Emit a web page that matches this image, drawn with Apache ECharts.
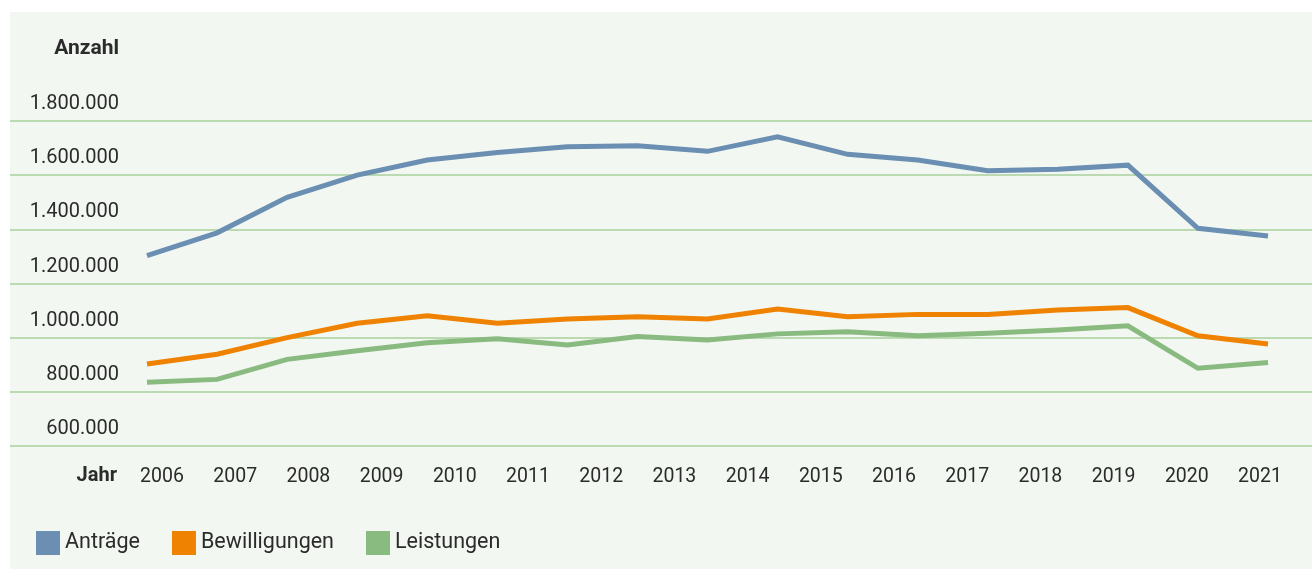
<!DOCTYPE html>
<html>
<head>
<meta charset="utf-8">
<script src="https://cdn.jsdelivr.net/npm/echarts@6/dist/echarts.min.js"></script>
<style>
    html, body { margin: 0; padding: 0; background: #fff; }
    #chart { position: absolute; left: 10px; top: 12px; width: 1302px; height: 557px; background: #f2f7f1; }
</style>
</head>
<body>
<div id="chart"></div>
<script>
    // year labels shown under the axis
    var years = ['2006', '2007', '2008', '2009', '2010', '2011', '2012', '2013', '2014', '2015', '2016', '2017', '2018', '2019', '2020', '2021'];
    // the lines carry one point more than there are year labels
    var antraege = [1303000, 1387000, 1518000, 1600000, 1656000, 1684000, 1705000, 1709000, 1688000, 1742000, 1677000, 1656000, 1616000, 1622000, 1637000, 1404000, 1375000];
    var bewilligungen = [903000, 939000, 1000000, 1053000, 1081000, 1053000, 1069000, 1077000, 1069000, 1106000, 1077000, 1086000, 1086000, 1102000, 1111000, 1007000, 977000];
    var leistungen = [835000, 846000, 920000, 952000, 981000, 996000, 973000, 1004000, 991000, 1014000, 1022000, 1007000, 1016000, 1028000, 1044000, 887000, 908000];
    var pointIdx = antraege.map(function (v, i) { return String(i); });

    var font = 'Roboto, "Noto Sans", sans-serif';
    var textColor = '#2b2b2b';

    var myChart = echarts.init(document.getElementById('chart'));

    function fmt(v) {
        return String(v).replace(/\B(?=(\d{3})+(?!\d))/g, '.');
    }

    function lineSeries(name, data, color) {
        return {
            name: name,
            type: 'line',
            xAxisIndex: 2,
            yAxisIndex: 2,
            data: data,
            showSymbol: false,
            symbol: 'none',
            itemStyle: { color: color },
            lineStyle: { color: color, width: 5, cap: 'butt', join: 'miter' },
            animation: false
        };
    }

    myChart.setOption({
        animation: false,
        textStyle: { fontFamily: font },
        grid: [
            { left: 0, right: 0, top: 109, bottom: 123 },
            { left: 115.4, right: 15.4, top: 109, bottom: 123 },
            { left: 137, right: 44, top: 109, bottom: 123 }
        ],
        xAxis: [
            { gridIndex: 0, type: 'value', show: false },
            {
                gridIndex: 1, type: 'category', data: years, boundaryGap: true,
                axisLine: { show: false }, axisTick: { show: false }, splitLine: { show: false },
                axisLabel: { color: textColor, fontSize: 19.5, fontFamily: font, margin: 21 }
            },
            { gridIndex: 2, type: 'category', data: pointIdx, boundaryGap: false, show: false }
        ],
        yAxis: [
            {
                gridIndex: 0, type: 'value', min: 600000, max: 1800000, interval: 200000,
                axisLine: { show: false }, axisTick: { show: false },
                splitLine: { show: true, lineStyle: { color: '#a9d09c', width: 1.5 } },
                axisLabel: {
                    inside: true, align: 'right', verticalAlign: 'bottom', margin: 109,
                    padding: [0, 0, 7, 0],
                    color: textColor, fontSize: 20, fontFamily: font,
                    formatter: fmt
                }
            },
            { gridIndex: 1, type: 'value', show: false },
            { gridIndex: 2, type: 'value', min: 600000, max: 1800000, show: false }
        ],
        legend: {
            left: 26, top: 519, padding: 0,
            icon: 'rect', itemWidth: 24, itemHeight: 24, itemGap: 32,
            textStyle: { color: textColor, fontSize: 21.5, fontFamily: font, padding: [3, 0, 0, 0] },
            data: ['Anträge', 'Bewilligungen', 'Leistungen']
        },
        graphic: [
            {
                type: 'text', right: 1193, top: 26,
                style: { text: 'Anzahl', fill: textColor, font: 'bold 21px ' + font }
            },
            {
                type: 'text', right: 1195, top: 454,
                style: { text: 'Jahr', fill: textColor, font: 'bold 20px ' + font }
            }
        ],
        series: [
            lineSeries('Anträge', antraege, '#6a8fb3'),
            lineSeries('Bewilligungen', bewilligungen, '#ef8200'),
            lineSeries('Leistungen', leistungen, '#89ba7f')
        ]
    });
</script>
</body>
</html>
